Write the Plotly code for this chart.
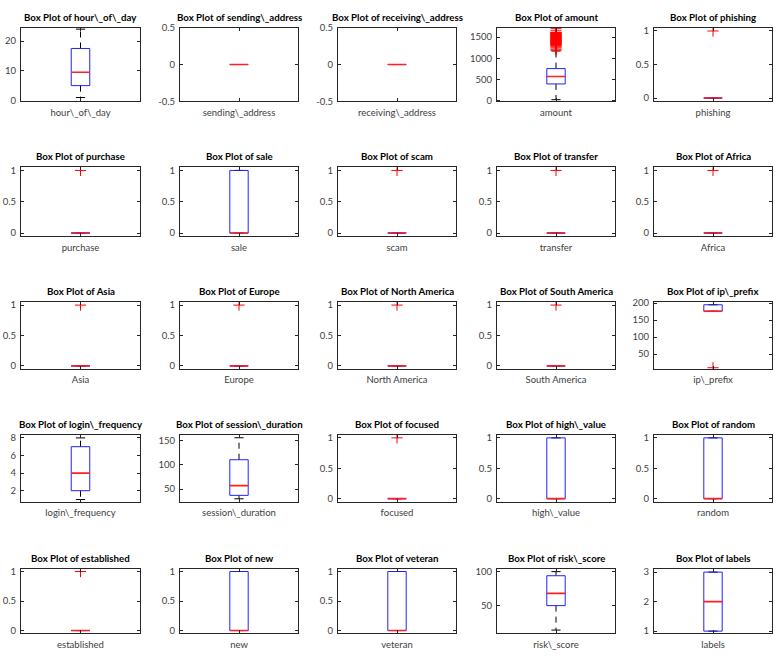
import plotly.graph_objects as go

# ---------------- data ----------------
names = [
    "hour\\_of\\_day", "sending\\_address", "receiving\\_address", "amount", "phishing",
    "purchase", "sale", "scam", "transfer", "Africa",
    "Asia", "Europe", "North America", "South America", "ip\\_prefix",
    "login\\_frequency", "session\\_duration", "focused", "high\\_value", "random",
    "established", "new", "veteran", "risk\\_score", "labels",
]
q1 =     [5,   0, 0, 389, 0,  0, 0, 0, 0, 0,  0, 0, 0, 0, 176,  2, 37, 0, 0, 0,  0, 0, 0, 50, 1]
median = [9.5, 0, 0, 567, 0,  0, 0, 0, 0, 0,  0, 0, 0, 0, 176,  4, 57, 0, 0, 0,  0, 0, 0, 68, 2]
q3 =     [17.5,0, 0, 753, 0,  0, 1, 0, 0, 0,  0, 0, 0, 0, 195,  7, 110, 0, 1, 1, 0, 1, 1, 94, 3]
whisker_low =  [1,  0, 0, 16,   0, 0, 0, 0, 0, 0, 0, 0, 0, 0, 176, 1, 30, 0, 0, 0, 0, 0, 0, 14, 1]
whisker_high = [24, 0, 0, 1170, 0, 0, 1, 0, 0, 0, 0, 0, 0, 0, 195, 8, 155, 0, 1, 1, 0, 1, 1, 100, 3]
amount_outliers = [1190, 1215, 1245, 1270, 1290, 1305, 1320, 1330, 1340, 1350,
                   1360, 1370, 1380, 1390, 1400, 1410, 1420, 1430, 1440, 1450, 1460, 1470,
                   1480, 1490, 1500, 1510, 1520, 1530, 1540, 1550, 1560, 1570, 1580, 1590,
                   1600, 1610, 1650, 1700]
outliers = [
    [], [], [], amount_outliers, [1],
    [1], [], [1], [1], [1],
    [1], [1], [1], [1], [10],
    [], [], [1], [], [],
    [1], [], [], [], [],
]
y_ranges = [
    [-0.3, 24.5], [-0.5, 0.5], [-0.5, 0.5], [-25, 1725], [-0.05, 1.05],
    [-0.05, 1.05], [-0.05, 1.05], [-0.05, 1.05], [-0.05, 1.05], [-0.05, 1.05],
    [-0.05, 1.05], [-0.05, 1.05], [-0.05, 1.05], [-0.05, 1.05], [6.5, 203],
    [0.75, 8.35], [24, 161], [-0.05, 1.05], [-0.05, 1.05], [-0.05, 1.05],
    [-0.05, 1.05], [-0.05, 1.05], [-0.05, 1.05], [9, 104.5], [0.92, 3.12],
]
binary_ticks = [0, 0.5, 1]
y_ticks = [
    [0, 10, 20], [-0.5, 0, 0.5], [-0.5, 0, 0.5], [0, 500, 1000, 1500], binary_ticks,
    binary_ticks, binary_ticks, binary_ticks, binary_ticks, binary_ticks,
    binary_ticks, binary_ticks, binary_ticks, binary_ticks, [50, 100, 150, 200],
    [2, 4, 6, 8], [50, 100, 150], binary_ticks, binary_ticks, binary_ticks,
    binary_ticks, binary_ticks, binary_ticks, [50, 100], [1, 2, 3],
]

# ---------------- layout geometry (pixels) ----------------
W, H = 777, 668
col_left = [21, 180, 338, 497, 654]
col_right = [140, 298, 456, 615, 772]
row_top = [22, 164, 301, 436, 572]
row_bottom = [97, 234, 369, 504, 638]

half_w = 0.078   # half box width (data units)
cap_w = 0.039    # half cap width

FONT = "Lato, Liberation Sans, Arial, sans-serif"
AX_COLOR = "#262626"

fig = go.Figure()
annotations = []
layout_axes = {}

for i, name in enumerate(names):
    r, c = divmod(i, 5)
    k = "" if i == 0 else str(i + 1)
    xa, ya = "x" + k, "y" + k
    a, b, m = q1[i], q3[i], median[i]
    lo, hi = whisker_low[i], whisker_high[i]

    # whiskers (dashed black)
    fig.add_trace(go.Scatter(
        x=[1, 1, None, 1, 1], y=[b, hi, None, a, lo], mode="lines",
        line=dict(color="black", width=1, dash="6px,5px"),
        xaxis=xa, yaxis=ya, hoverinfo="skip", showlegend=False))
    # caps
    fig.add_trace(go.Scatter(
        x=[1 - cap_w, 1 + cap_w, None, 1 - cap_w, 1 + cap_w], y=[hi, hi, None, lo, lo],
        mode="lines", line=dict(color="black", width=1),
        xaxis=xa, yaxis=ya, hoverinfo="skip", showlegend=False))
    # box
    fig.add_trace(go.Scatter(
        x=[1 - half_w, 1 + half_w, 1 + half_w, 1 - half_w, 1 - half_w],
        y=[a, a, b, b, a], mode="lines", line=dict(color="#2020ff", width=1),
        xaxis=xa, yaxis=ya, hoverinfo="skip", showlegend=False))
    # median
    fig.add_trace(go.Scatter(
        x=[1 - half_w, 1 + half_w], y=[m, m], mode="lines",
        line=dict(color="#ff2020", width=1.6),
        xaxis=xa, yaxis=ya, hoverinfo="skip", showlegend=False))
    # outliers
    if outliers[i]:
        fig.add_trace(go.Scatter(
            x=[1] * len(outliers[i]), y=outliers[i], mode="markers",
            marker=dict(symbol="cross-thin", size=8, line=dict(color="#ff0000", width=1)),
            xaxis=xa, yaxis=ya, hoverinfo="skip", showlegend=False))

    xd = [col_left[c] / W, col_right[c] / W]
    yd = [1 - row_bottom[r] / H, 1 - row_top[r] / H]
    common = dict(showline=True, linecolor=AX_COLOR, linewidth=1, mirror="ticks",
                  ticks="inside", ticklen=3, tickcolor=AX_COLOR, showgrid=False,
                  zeroline=False, fixedrange=True,
                  tickfont=dict(family=FONT, size=9.5, color="#404040"))
    layout_axes["xaxis" + k] = dict(domain=xd, range=[0.5, 1.5], anchor=ya,
                                    tickvals=[1], ticktext=[name],
                                    ticklabelstandoff=2, **common)
    layout_axes["yaxis" + k] = dict(domain=yd, range=y_ranges[i], anchor=xa,
                                    tickvals=y_ticks[i],
                                    ticktext=[("%g" % v) for v in y_ticks[i]],
                                    ticklabelstandoff=2, **common)
    annotations.append(dict(
        text="<b>Box Plot of " + name + "</b>", xref="paper", yref="paper",
        x=(xd[0] + xd[1]) / 2, y=yd[1], xanchor="center", yanchor="bottom",
        yshift=3, showarrow=False,
        font=dict(family=FONT, size=9.7, color="black")))

fig.update_layout(
    width=W, height=H, margin=dict(l=0, r=0, t=0, b=0),
    paper_bgcolor="white", plot_bgcolor="white",
    annotations=annotations, **layout_axes)

fig.write_html("out.html")
